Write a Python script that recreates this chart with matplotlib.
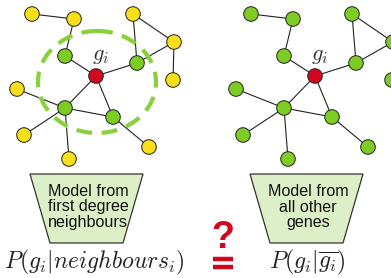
import matplotlib
matplotlib.use("Agg")
import matplotlib.pyplot as plt
from matplotlib.patches import Ellipse, Polygon

plt.rcParams['mathtext.fontset'] = 'cm'

# node positions (pixels) of the left network; right network is the same shifted
node_x = [32, 74, 133, 174, 173, 65, 96, 137, 17, 65, 113, 24, 69, 149]
node_y = [14, 19, 14, 42, 80, 56, 76, 63, 89, 108, 117, 135, 159, 147]
node_kind = ['far', 'far', 'far', 'far', 'far', 'near', 'target', 'near',
             'far', 'near', 'near', 'far', 'far', 'far']
edges = [(0, 1), (1, 5), (5, 6), (6, 7), (7, 2), (2, 3), (3, 7), (3, 4),
         (6, 9), (6, 10), (9, 10), (8, 9), (9, 11), (9, 12), (10, 13)]
shift = 219

left_colors = {'far': '#f7e01a', 'near': '#7ccc23', 'target': '#d2061c'}
right_colors = {'far': '#7ccc23', 'near': '#7ccc23', 'target': '#d2061c'}

box_text = ["Model from\nfirst degree\nneighbours", "Model from\nall other\ngenes"]
formulas = [r"$P(g_i|neighbours_i)$", r"$P(g_i|\overline{g_i})$"]
formula_x = [94, 307]

fig = plt.figure(figsize=(3.91, 2.78), dpi=100)
ax = fig.add_axes([0, 0, 1, 1])
ax.set_xlim(0, 391)
ax.set_ylim(278, 0)
ax.axis('off')

for k, colors in enumerate([left_colors, right_colors]):
    dx = k * shift
    for a, b in edges:
        ax.plot([node_x[a] + dx, node_x[b] + dx], [node_y[a], node_y[b]],
                color='#222222', lw=0.8, zorder=1)
    ax.scatter([x + dx for x in node_x], node_y,
               c=[colors[t] for t in node_kind], s=110,
               edgecolors='#222222', linewidths=0.7, zorder=3)
    ax.text(101 + dx, 60, r"$g_i$", fontsize=16, ha='center', va='baseline',
            color='#333333', zorder=4)

# first-degree neighbourhood
ax.add_patch(Ellipse((97, 82), 118, 102, fill=False, edgecolor='#88d03c',
                     lw=3.0, linestyle=(0, (3.8, 2.3)), zorder=2))

for k in range(2):
    dx = k * 220
    trap = Polygon([(30 + dx, 174), (143 + dx, 174), (123 + dx, 243), (50 + dx, 243)],
                   closed=True, facecolor='#ddefc6', edgecolor='#333333', lw=0.9)
    ax.add_patch(trap)
    ax.text(88 + dx, 207, box_text[k], ha='center', va='center', fontsize=11.6,
            family='Liberation Sans', linespacing=1.05, color='#111111')
    ax.text(formula_x[k], 262, formulas[k], ha='center', va='center',
            fontsize=17, color='#222222')

ax.text(223, 238, "?", ha='center', va='center', fontsize=27, fontweight='bold',
        family='Liberation Sans', color='#d2061c')
# the equals sign under the question mark, drawn as two thick bars
ax.hlines([259, 267], 213, 233, colors='#d2061c', lw=3.2)

fig.savefig("out.png", dpi=100)
